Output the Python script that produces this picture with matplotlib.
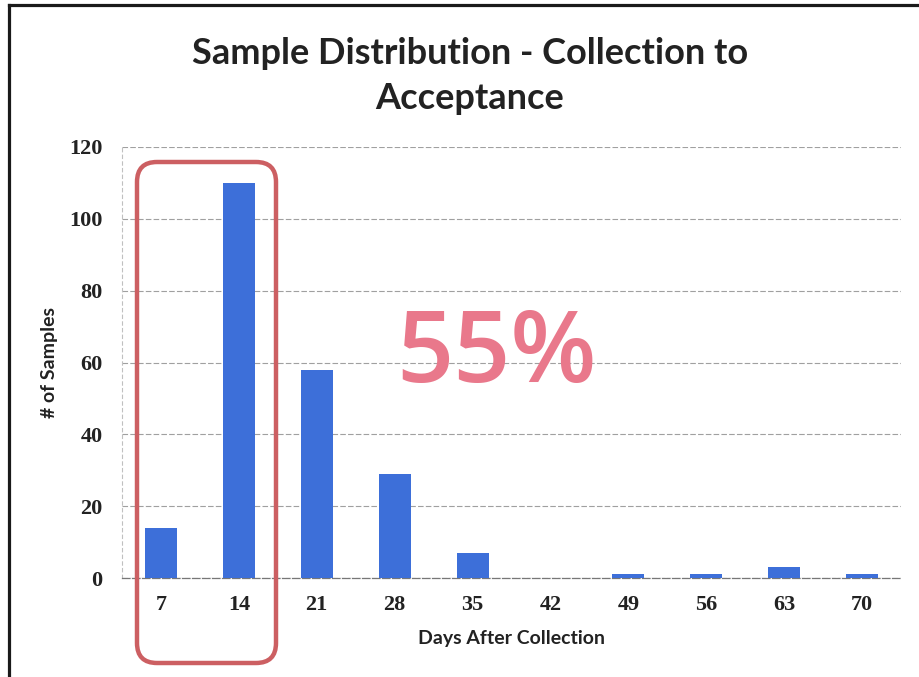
import matplotlib
matplotlib.use("Agg")
import matplotlib.pyplot as plt
from matplotlib.patches import FancyBboxPatch
from matplotlib.lines import Line2D

# data
days = ["7", "14", "21", "28", "35", "42", "49", "56", "63", "70"]
samples = [14, 110, 58, 29, 7, 0, 1, 1, 3, 1]
y_ticks = [0, 20, 40, 60, 80, 100, 120]

bar_color = "#3d6fd9"
text_color = "#222222"

fig = plt.figure(figsize=(9.19, 6.77), dpi=100)
fig.patch.set_facecolor("white")
ax = fig.add_axes([122 / 919, 1 - 578 / 677, 779 / 919, 431 / 677])

x = list(range(len(days)))
ax.bar(x, samples, width=0.41, color=bar_color, zorder=3)

ax.set_xlim(-0.5, len(days) - 0.5)
ax.set_ylim(0, 120)
ax.set_yticks(y_ticks)
ax.set_xticks(x)
ax.set_xticklabels(days)

# gridlines like the scanned excel chart
ax.yaxis.grid(True, color="#a0a0a0", linestyle=(0, (5, 2)), linewidth=0.8, zorder=0)
for side in ["top", "right"]:
    ax.spines[side].set_visible(False)
ax.spines["left"].set_color("#c0c0c0")
ax.spines["left"].set_linestyle((0, (3, 3)))
ax.spines["left"].set_linewidth(0.8)
ax.spines["bottom"].set_color("#777777")
ax.spines["bottom"].set_linestyle((0, (6, 2)))
ax.spines["bottom"].set_linewidth(0.9)

ax.tick_params(axis="both", length=0, colors=text_color)
ax.tick_params(axis="y", pad=14)
ax.tick_params(axis="x", pad=12)
for lbl in ax.get_xticklabels() + ax.get_yticklabels():
    lbl.set_fontfamily("Liberation Serif")
    lbl.set_fontweight("bold")
    lbl.set_fontsize(16)

ax.set_ylabel("# of Samples", fontfamily="Lato", fontweight="bold", fontsize=14, color=text_color)
ax.yaxis.set_label_coords(-0.082, 0.5)
ax.set_xlabel("Days After Collection", fontfamily="Lato", fontweight="bold", fontsize=14, color=text_color)
ax.xaxis.set_label_coords(0.5, -0.12)

fig.text(470 / 919, 1 - 76 / 677, "Sample Distribution - Collection to\nAcceptance",
         ha="center", va="center", fontfamily="Lato", fontweight="bold",
         fontsize=26, color=text_color, linespacing=1.45)

# big annotation
fig.text(496 / 919, 1 - 356 / 677, "55%", ha="center", va="center",
         fontfamily="Open Sans", fontweight="semibold", fontsize=72, color="#e9788b")

# rounded red box around 7 and 14
box = FancyBboxPatch((1.37, 0.14), 1.39, 5.01,
                     boxstyle="round,pad=0,rounding_size=0.2",
                     transform=fig.dpi_scale_trans, fill=False,
                     edgecolor="#cc5f62", linewidth=3.2, zorder=5)
fig.patches.append(box)

# scan frame (left and top edges)
fig.lines.append(Line2D([9 / 919, 9 / 919], [0, 1 - 5 / 677], transform=fig.transFigure,
                        color="#1a1a1a", linewidth=2.3))
fig.lines.append(Line2D([9 / 919, 1], [1 - 5 / 677, 1 - 5 / 677], transform=fig.transFigure,
                        color="#1a1a1a", linewidth=2.3))

fig.savefig("out.png", dpi=100)
